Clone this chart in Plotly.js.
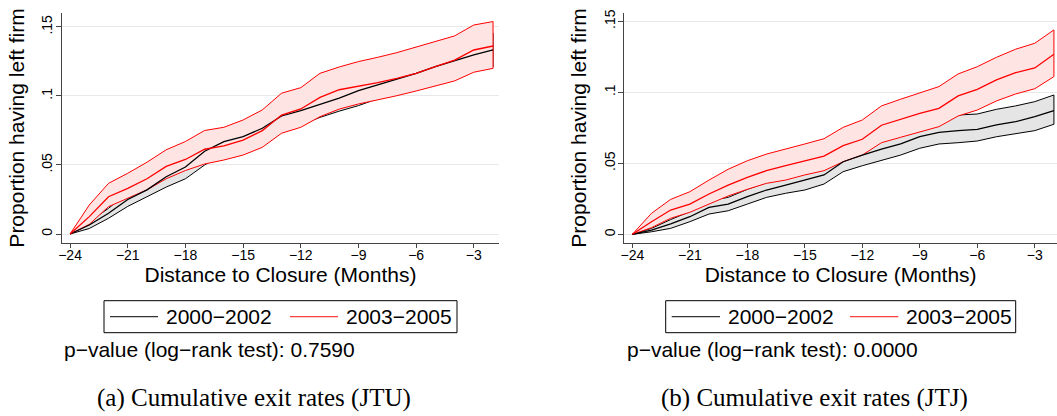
<!DOCTYPE html>
<html>
<head>
<meta charset="utf-8">
<script src="https://cdn.plot.ly/plotly-3.0.1.min.js"></script>
<style>html,body{margin:0;padding:0;background:#fff;}#chart{width:1057px;height:416px;}</style>
</head>
<body>
<div id="chart"></div>
<script>
// Months to closure
const months = [-24,-23,-22,-21,-20,-19,-18,-17,-16,-15,-14,-13,-12,-11,-10,-9,-8,-7,-6,-5,-4,-3,-2];
const xTicks = [-24,-21,-18,-15,-12,-9,-6,-3];
const yTickVals = [0, 0.05, 0.1, 0.15];
const yTickText = ['0', '.05', '.1', '.15'];
const groupLabels = ['2000\u22122002', '2003\u22122005'];

// Panel (a) JTU
const jtuMid00 = [0,0.0065,0.015,0.025,0.032,0.0415,0.0485,0.060,0.0669,0.0705,0.0766,0.0855,0.0894,0.094,0.0985,0.1039,0.108,0.1123,0.1164,0.1213,0.1256,0.1297,0.1333];
const jtuLo00  = [0,0.004,0.0114,0.020,0.027,0.034,0.040,0.050,0.058,0.061,0.067,0.076,0.079,0.0845,0.089,0.093,0.098,0.102,0.106,0.110,0.114,0.118,0.121];
const jtuHi00  = [0,0.009,0.0186,0.030,0.037,0.049,0.057,0.070,0.0758,0.080,0.086,0.096,0.1008,0.1035,0.108,0.1148,0.118,0.1226,0.1268,0.1326,0.1372,0.1414,0.1456];
const jtuMid03 = [0,0.0126,0.027,0.033,0.040,0.049,0.054,0.0614,0.0638,0.068,0.0749,0.0862,0.0906,0.099,0.1045,0.107,0.1097,0.1128,0.1164,0.1213,0.126,0.1333,0.1362];
const jtuLo03  = [0,0.007,0.0198,0.026,0.032,0.040,0.046,0.0507,0.0536,0.0572,0.0628,0.073,0.0773,0.085,0.0905,0.0942,0.0971,0.1002,0.1036,0.1072,0.1109,0.1172,0.120];
const jtuHi03  = [0,0.021,0.0367,0.044,0.052,0.061,0.067,0.075,0.0773,0.0826,0.0899,0.102,0.106,0.1164,0.121,0.1249,0.128,0.1314,0.1353,0.1394,0.1435,0.1514,0.1539];
const jtuPText = 'p\u2212value (log\u2212rank test): 0.7590';

// Panel (b) JTJ
const jtjMid00 = [0,0.003,0.0073,0.0124,0.019,0.0213,0.0265,0.0312,0.0347,0.0382,0.0418,0.0511,0.0558,0.0599,0.0636,0.0687,0.0718,0.073,0.0739,0.077,0.0793,0.0828,0.087];
const jtjLo00  = [0,0.0018,0.0042,0.0089,0.0143,0.0166,0.0213,0.026,0.0289,0.0312,0.0354,0.0441,0.0483,0.0518,0.0558,0.0606,0.0636,0.0645,0.0657,0.0687,0.0706,0.073,0.0775];
const jtjHi00  = [0,0.0042,0.0104,0.016,0.0237,0.026,0.0317,0.0364,0.0405,0.0452,0.048,0.058,0.063,0.068,0.0714,0.0768,0.080,0.084,0.0847,0.088,0.0904,0.0934,0.0981];
const jtjMid03 = [0,0.0089,0.0171,0.0213,0.0284,0.0347,0.0401,0.0448,0.0483,0.0518,0.0551,0.0624,0.0669,0.0768,0.081,0.0852,0.0887,0.0974,0.1021,0.1087,0.1138,0.1171,0.1268];
const jtjLo03  = [0,0.0047,0.0113,0.0155,0.0213,0.027,0.0317,0.0359,0.0382,0.0418,0.0448,0.0511,0.0558,0.0645,0.0683,0.0723,0.0758,0.0833,0.0875,0.0939,0.0988,0.1025,0.111];
const jtjHi03  = [0,0.0148,0.0246,0.030,0.0382,0.0458,0.0518,0.0565,0.0599,0.0636,0.0673,0.0753,0.0805,0.0904,0.0951,0.0997,0.104,0.1129,0.118,0.1246,0.1303,0.1345,0.1439];
const jtjPText = 'p\u2212value (log\u2212rank test): 0.0000';

const captions = ['(a) Cumulative exit rates (JTU)', '(b) Cumulative exit rates (JTJ)'];

const W = 1057, H = 416;
const px = v => v / W;
const py = v => 1 - v / H;

function band(lo, hi, xa, ya, lineColor, fillColor) {
  return {
    x: months.concat(months.slice().reverse()),
    y: lo.concat(hi.slice().reverse()),
    xaxis: xa, yaxis: ya, type: 'scatter', mode: 'lines',
    fill: 'toself', fillcolor: fillColor,
    line: {color: lineColor, width: 1},
    hoverinfo: 'skip', showlegend: false
  };
}
function est(vals, xa, ya, color) {
  return {x: months, y: vals, xaxis: xa, yaxis: ya, type: 'scatter', mode: 'lines',
    line: {color: color, width: 1.3}, showlegend: false};
}
const GRAY = 'rgb(229,229,229)', PINK = 'rgb(255,228,228)', RED = 'rgb(255,0,0)', BLK = 'rgb(0,0,0)';

const data = [
  band(jtuLo00, jtuHi00, 'x', 'y', BLK, GRAY),
  band(jtuLo03, jtuHi03, 'x', 'y', RED, PINK),
  est(jtuMid00, 'x', 'y', BLK),
  est(jtuMid03, 'x', 'y', RED),
  band(jtjLo00, jtjHi00, 'x2', 'y2', BLK, GRAY),
  band(jtjLo03, jtjHi03, 'x2', 'y2', RED, PINK),
  est(jtjMid00, 'x2', 'y2', BLK),
  est(jtjMid03, 'x2', 'y2', RED)
];

const FONT = 'Liberation Sans, Arial, Helvetica, sans-serif';
const axisCommon = {
  showline: true, linecolor: '#444', linewidth: 1,
  ticks: 'outside', tickcolor: '#444', tickwidth: 1,
  zeroline: false, fixedrange: true
};
function xAxis(domain, range, anchor) {
  return Object.assign({}, axisCommon, {
    domain: domain, range: range, anchor: anchor,
    tickmode: 'array', tickvals: xTicks, ticklen: 4,
    ticklabelstandoff: -5,
    showgrid: false,
    tickfont: {family: FONT, size: 14, color: '#000'},
    title: {text: 'Distance to Closure (Months)', font: {family: FONT, size: 21, color: '#000'}, standoff: 1}
  });
}
function yAxis(domain, range, anchor) {
  return Object.assign({}, axisCommon, {
    domain: domain, range: range, anchor: anchor,
    tickmode: 'array', tickvals: yTickVals, ticktext: yTickText, ticklen: 5,
    tickangle: -90, ticklabelstandoff: -2,
    showgrid: true, gridcolor: 'rgb(232,232,232)', gridwidth: 1,
    tickfont: {family: FONT, size: 14, color: '#000'},
    title: {text: 'Proportion having left firm', font: {family: FONT, size: 21, color: '#000'}, standoff: 9}
  });
}

const yDom = [py(243), py(13)];
const layout = {
  width: W, height: H,
  margin: {l: 0, r: 0, t: 0, b: 0},
  paper_bgcolor: '#fff', plot_bgcolor: '#fff',
  font: {family: FONT, color: '#000'},
  showlegend: false,
  xaxis: xAxis([px(62), px(499)], [-24.42, -1.69], 'y'),
  yaxis: yAxis(yDom, [-0.00652, 0.1601], 'x'),
  xaxis2: xAxis([px(624.3), 1], [-24.42, -1.84], 'y2'),
  yaxis2: yAxis(yDom, [-0.0061, 0.1558], 'x2'),
  shapes: [],
  annotations: []
};

function legendBox(x0, x1, s1a, s1b, t1, s2a, s2b, t2) {
  const yc = 316.7;
  layout.shapes.push({type: 'rect', xref: 'paper', yref: 'paper', x0: px(x0), x1: px(x1), y0: py(332.7), y1: py(300.7),
    line: {color: '#000', width: 1}, fillcolor: 'rgba(0,0,0,0)'});
  layout.shapes.push({type: 'line', xref: 'paper', yref: 'paper', x0: px(s1a), x1: px(s1b), y0: py(yc), y1: py(yc),
    line: {color: '#333', width: 1.3}});
  layout.shapes.push({type: 'line', xref: 'paper', yref: 'paper', x0: px(s2a), x1: px(s2b), y0: py(yc), y1: py(yc),
    line: {color: '#ff4040', width: 1.3}});
  layout.annotations.push({xref: 'paper', yref: 'paper', x: px(t1), y: py(yc), xanchor: 'left', yanchor: 'middle',
    text: groupLabels[0], showarrow: false, font: {family: FONT, size: 21, color: '#000'}});
  layout.annotations.push({xref: 'paper', yref: 'paper', x: px(t2), y: py(yc), xanchor: 'left', yanchor: 'middle',
    text: groupLabels[1], showarrow: false, font: {family: FONT, size: 21, color: '#000'}});
}
legendBox(104, 457, 110, 158, 164, 290, 338, 344);
legendBox(665.7, 1015.7, 671.7, 720, 726, 850, 898.3, 904);

layout.annotations.push({xref: 'paper', yref: 'paper', x: px(62), y: py(349), xanchor: 'left', yanchor: 'middle',
  text: jtuPText, showarrow: false, font: {family: FONT, size: 21, color: '#000'}});
layout.annotations.push({xref: 'paper', yref: 'paper', x: px(624.5), y: py(349), xanchor: 'left', yanchor: 'middle',
  text: jtjPText, showarrow: false, font: {family: FONT, size: 21, color: '#000'}});

const SERIF = 'Liberation Serif, Times New Roman, serif';
layout.annotations.push({xref: 'paper', yref: 'paper', x: px(254), y: py(398), xanchor: 'center', yanchor: 'middle',
  text: captions[0], showarrow: false, font: {family: SERIF, size: 25, color: '#000'}});
layout.annotations.push({xref: 'paper', yref: 'paper', x: px(814), y: py(398), xanchor: 'center', yanchor: 'middle',
  text: captions[1], showarrow: false, font: {family: SERIF, size: 25, color: '#000'}});

Plotly.newPlot('chart', data, layout, {staticPlot: true, displayModeBar: false});
</script>
</body>
</html>
